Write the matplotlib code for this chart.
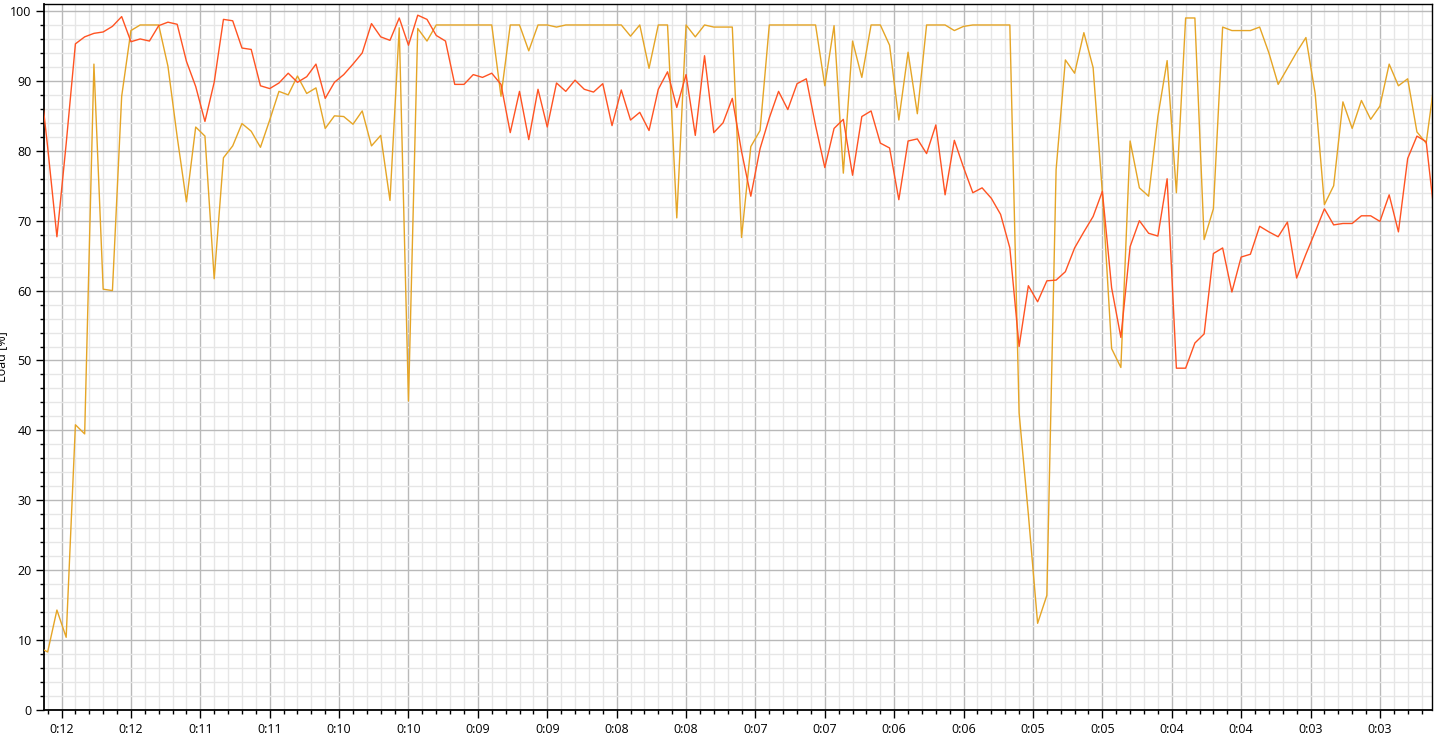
import numpy as np
import matplotlib.pyplot as plt
from matplotlib.ticker import MultipleLocator, FixedLocator

# load samples, one every 4 s (first and last fall just outside the axis)
sample_step = 4
load_a = [92.5, 80.5, 67.7, 81.0, 95.3, 96.3, 96.8, 97.0, 97.8, 99.2,
          95.6, 96.0, 95.7, 97.9, 98.4, 98.1, 92.8, 89.2, 84.2, 89.8,
          98.8, 98.6, 94.7, 94.5, 89.3, 88.9, 89.7, 91.1, 89.8, 90.6,
          92.4, 87.5, 89.8, 90.9, 92.4, 94.0, 98.2, 96.3, 95.8, 99.0,
          95.1, 99.4, 98.8, 96.5, 95.7, 89.5, 89.5, 90.9, 90.5, 91.1,
          89.5, 82.6, 88.5, 81.6, 88.8, 83.4, 89.7, 88.5, 90.1, 88.8,
          88.4, 89.6, 83.6, 88.7, 84.4, 85.5, 82.9, 88.8, 91.3, 86.2,
          90.9, 82.2, 93.6, 82.6, 84.0, 87.5, 79.9, 73.5, 80.3, 84.7,
          88.5, 85.9, 89.6, 90.3, 83.6, 77.6, 83.2, 84.5, 76.5, 84.9,
          85.7, 81.1, 80.4, 73.0, 81.4, 81.7, 79.6, 83.7, 73.7, 81.5,
          77.6, 74.0, 74.7, 73.2, 70.9, 66.1, 52.0, 60.7, 58.4, 61.4,
          61.5, 62.7, 66.1, 68.4, 70.6, 74.2, 60.4, 53.3, 66.3, 70.0,
          68.2, 67.8, 76.0, 48.9, 48.9, 52.5, 53.8, 65.3, 66.1, 59.8,
          64.8, 65.2, 69.2, 68.4, 67.7, 69.8, 61.8, 65.2, 68.4, 71.7,
          69.4, 69.6, 69.6, 70.7, 70.7, 69.9, 73.7, 68.4, 78.9, 82.1,
          81.3, 69.5]
load_b = [9.0, 8.3, 14.3, 10.4, 40.8, 39.5, 92.4, 60.2, 60.0, 87.8,
          97.2, 98.0, 98.0, 98.0, 92.1, 82.0, 72.7, 83.4, 82.1, 61.7,
          79.0, 80.7, 83.9, 82.8, 80.5, 84.4, 88.5, 88.0, 90.7, 88.2,
          89.0, 83.2, 85.0, 84.9, 83.8, 85.7, 80.7, 82.2, 72.9, 97.6,
          44.2, 97.5, 95.7, 98.0, 98.0, 98.0, 98.0, 98.0, 98.0, 98.0,
          87.8, 98.0, 98.0, 94.3, 98.0, 98.0, 97.7, 98.0, 98.0, 98.0,
          98.0, 98.0, 98.0, 98.0, 96.4, 98.0, 91.8, 98.0, 98.0, 70.4,
          98.0, 96.3, 98.0, 97.7, 97.7, 97.7, 67.6, 80.6, 82.9, 98.0,
          98.0, 98.0, 98.0, 98.0, 98.0, 89.3, 97.9, 76.8, 95.7, 90.5,
          98.0, 98.0, 95.1, 84.4, 94.1, 85.3, 98.0, 98.0, 98.0, 97.2,
          97.8, 98.0, 98.0, 98.0, 98.0, 98.0, 42.5, 28.0, 12.4, 16.4,
          77.3, 93.0, 91.1, 96.9, 91.9, 74.0, 51.7, 49.0, 81.4, 74.7,
          73.5, 84.9, 92.9, 74.0, 99.0, 99.0, 67.3, 71.7, 97.7, 97.2,
          97.2, 97.2, 97.7, 94.0, 89.5, 91.8, 94.1, 96.2, 88.2, 72.3,
          75.0, 87.0, 83.2, 87.2, 84.5, 86.4, 92.4, 89.3, 90.3, 82.7,
          81.1, 91.0]
time_labels = ['0:12', '0:12', '0:11', '0:11', '0:10', '0:10', '0:09', '0:09',
               '0:08', '0:08', '0:07', '0:07', '0:06', '0:06', '0:05', '0:05',
               '0:04', '0:04', '0:03', '0:03']

t = (np.arange(len(load_a)) - 1) * sample_step
major_t = 6 + 30 * np.arange(len(time_labels))

plt.rcParams['font.family'] = ['Open Sans', 'DejaVu Sans']
fig = plt.figure(figsize=(14.36, 7.46), dpi=100)
W, H = 1436, 746
ax = fig.add_axes([43.5 / W, 36 / H, 1388 / W, 706 / H])

ax.plot(t, load_b, color='#e5a526', lw=1.0, zorder=3)
ax.plot(t, load_a, color='#ff5322', lw=1.0, zorder=4)

ax.set_xlim(-1.8, 598.3)
ax.set_ylim(0, 101)

ax.xaxis.set_major_locator(FixedLocator(major_t))
ax.xaxis.set_minor_locator(MultipleLocator(6))
ax.set_xticklabels(time_labels)
ax.yaxis.set_major_locator(MultipleLocator(10))
ax.yaxis.set_minor_locator(MultipleLocator(2))

ax.grid(which='minor', color='#e6e6e6', lw=1.0, zorder=0)
ax.grid(which='major', color='#b9b9b9', lw=1.0, zorder=1)
ax.set_axisbelow(True)

ax.tick_params(which='major', length=5.5, width=1.0, labelsize=9, pad=3, color='black')
ax.tick_params(which='minor', length=3.2, width=1.0, color='black')
ax.tick_params(axis='x', which='major', pad=4)

for s in ['top', 'right']:
    ax.spines[s].set_linewidth(1.0)
for s in ['left', 'bottom']:
    ax.spines[s].set_linewidth(1.3)

# the reference clips this label at the left edge; keep it half visible
ax.set_ylabel('Load [%]', fontsize=9, va='center')
ax.yaxis.set_label_coords(-42 / 1388, 0.5)

plt.savefig('out.png', dpi=100)
